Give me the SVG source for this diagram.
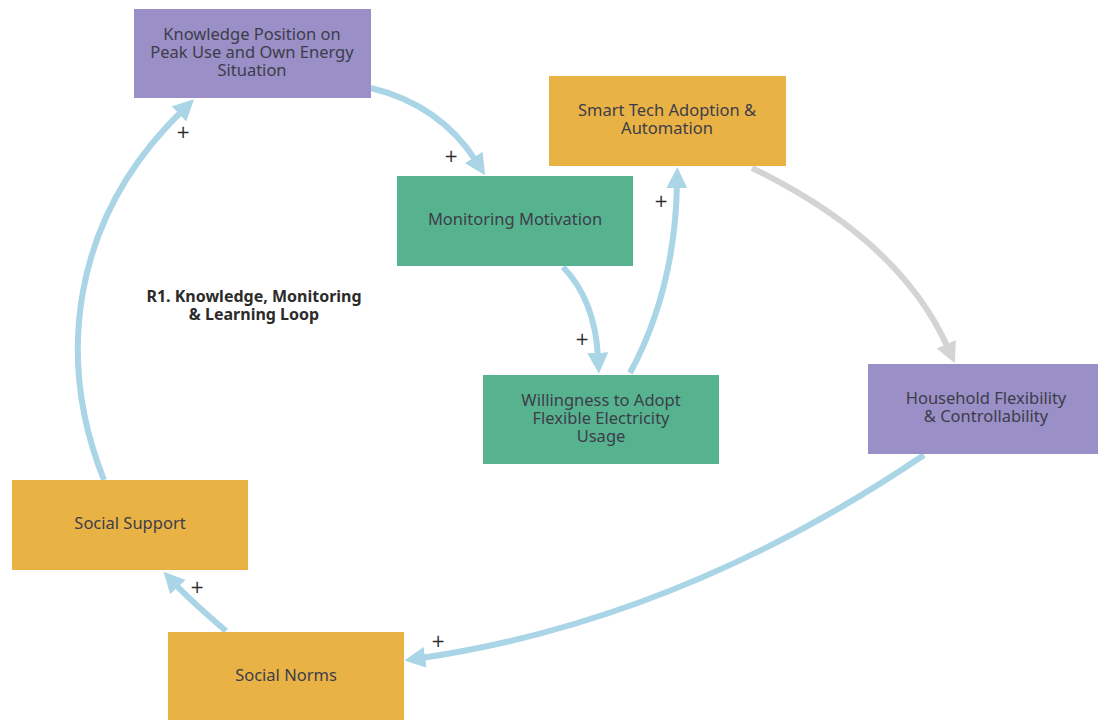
<svg xmlns="http://www.w3.org/2000/svg" width="1098" height="720" viewBox="0 0 1098 720">
<defs>
<style>
.node-purple{fill:#9a8fc6;}
.node-orange{fill:#e9b245;}
.node-green{fill:#57b38f;}
.lbl{font-family:"Noto Sans","Liberation Sans",sans-serif;font-size:16.5px;fill:#3d3d4a;text-anchor:middle;}
.title{font-family:"Noto Sans","Liberation Sans",sans-serif;font-size:16px;font-weight:bold;fill:#2b2b2b;text-anchor:middle;}
.plus{font-family:"DejaVu Sans","Liberation Sans",sans-serif;font-size:17px;fill:#2b2b2b;text-anchor:middle;}
.edge{fill:none;stroke:#a9d5e6;stroke-width:6;marker-end:url(#ab);}
.edge-gray{fill:none;stroke:#d4d4d4;stroke-width:6;marker-end:url(#ag);}
</style>
<marker id="ab" viewBox="0 0 10 10" markerUnits="userSpaceOnUse" markerWidth="21" markerHeight="21" refX="2" refY="5" orient="auto"><path d="M0,0 L10,5 L0,10 z" fill="#a9d5e6"/></marker>
<marker id="ag" viewBox="0 0 10 10" markerUnits="userSpaceOnUse" markerWidth="21" markerHeight="21" refX="2" refY="5" orient="auto"><path d="M0,0 L10,5 L0,10 z" fill="#d4d4d4"/></marker>
</defs>
<rect width="1098" height="720" fill="#ffffff"/>
<g id="connectors">
<path class="edge" d="M371,88 Q440,105 476,161"/>
<path class="edge" d="M563,267 Q595,300 598,357"/>
<path class="edge" d="M630,373 Q675,290 677,184"/>
<path class="edge-gray" d="M752,168 Q900,240 948,348"/>
<path class="edge" d="M924,455 Q680,620 421,658"/>
<path class="edge" d="M226,631 Q190,600 175,584"/>
<path class="edge" d="M104,480 C56,360 70,220 182,111"/>
</g>
<g id="signs">
<text class="plus" x="183" y="138">+</text>
<text class="plus" x="451" y="162">+</text>
<text class="plus" x="661" y="207">+</text>
<text class="plus" x="582" y="345">+</text>
<text class="plus" x="197" y="593">+</text>
<text class="plus" x="438" y="647">+</text>
</g>
<g id="loop-label">
<text class="title" x="254" y="302">R1. Knowledge, Monitoring</text>
<text class="title" x="254" y="320">&amp; Learning Loop</text>
</g>
<g id="knowledge">
<rect class="node-purple" x="134" y="9" width="237" height="89"/>
<text class="lbl" x="252" y="40">Knowledge Position on</text>
<text class="lbl" x="252" y="58">Peak Use and Own Energy</text>
<text class="lbl" x="252" y="76">Situation</text>
</g>
<g id="smart-tech">
<rect class="node-orange" x="549" y="76" width="237" height="90"/>
<text class="lbl" x="667" y="116">Smart Tech Adoption &amp;</text>
<text class="lbl" x="667" y="134">Automation</text>
</g>
<g id="monitoring">
<rect class="node-green" x="397" y="176" width="236" height="90"/>
<text class="lbl" x="515" y="225">Monitoring Motivation</text>
</g>
<g id="willingness">
<rect class="node-green" x="483" y="375" width="236" height="89"/>
<text class="lbl" x="601" y="406">Willingness to Adopt</text>
<text class="lbl" x="601" y="424">Flexible Electricity</text>
<text class="lbl" x="601" y="442">Usage</text>
</g>
<g id="household">
<rect class="node-purple" x="868" y="364" width="230" height="90"/>
<text class="lbl" x="986" y="404">Household Flexibility</text>
<text class="lbl" x="986" y="422">&amp; Controllability</text>
</g>
<g id="social-support">
<rect class="node-orange" x="12" y="480" width="236" height="90"/>
<text class="lbl" x="130" y="529">Social Support</text>
</g>
<g id="social-norms">
<rect class="node-orange" x="168" y="632" width="236" height="88"/>
<text class="lbl" x="286" y="681">Social Norms</text>
</g>
</svg>
